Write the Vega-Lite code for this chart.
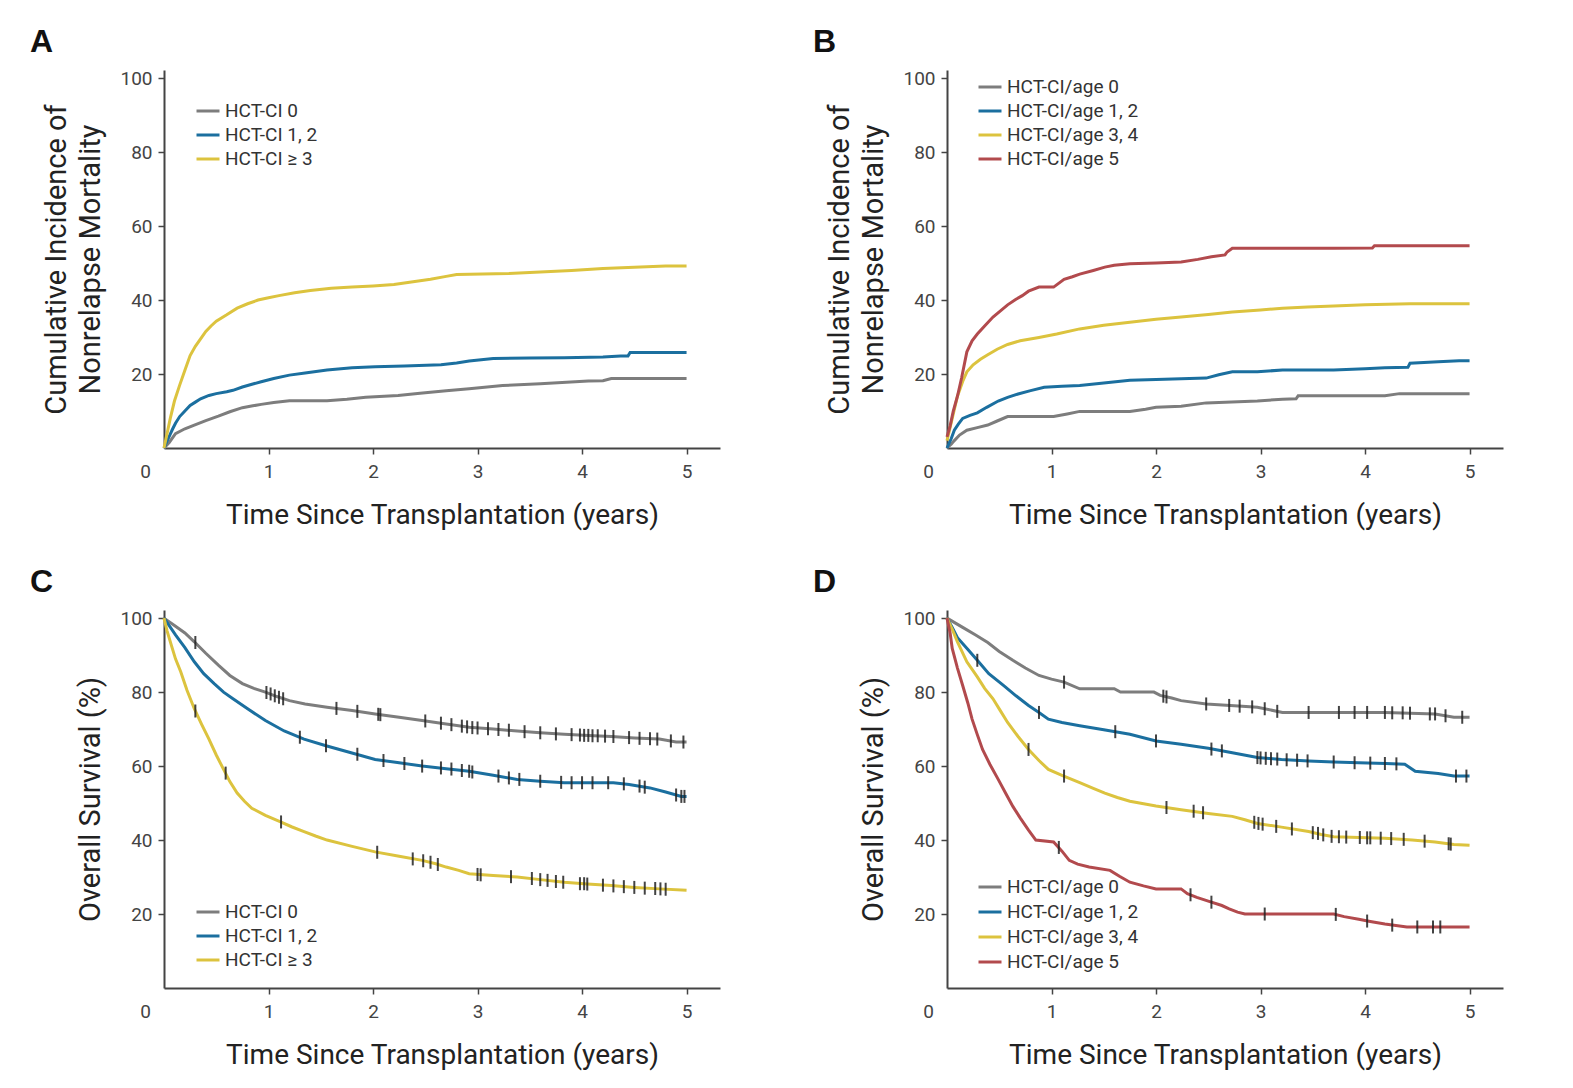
{
  "$schema": "https://vega.github.io/schema/vega-lite/v6.json",
  "background": "white",
  "padding": {"left": 30, "top": 26, "right": 5, "bottom": 5},
  "config": {
    "view": {"stroke": null},
    "font": "Roboto",
    "axis": {
      "grid": false,
      "domainColor": "#444",
      "domainWidth": 2,
      "tickColor": "#444",
      "tickWidth": 1.5,
      "tickSize": 6,
      "labelColor": "#444",
      "labelFont": "Roboto",
      "labelFontSize": 19,
      "titleFont": "Roboto",
      "titleFontSize": 28,
      "titleFontWeight": "normal",
      "titleColor": "#222"
    },
    "legend": {
      "title": null,
      "orient": "none",
      "symbolType": "stroke",
      "symbolSize": 529,
      "symbolStrokeWidth": 3,
      "labelFont": "Roboto",
      "labelFontSize": 19,
      "labelColor": "#333",
      "rowPadding": 2,
      "labelOffset": 4
    },
    "title": {"font": "Liberation Sans", "fontSize": 32, "fontWeight": "bold", "color": "#111", "anchor": "start", "frame": "group", "dx": -134, "offset": 10, "baseline": "alphabetic"}
  },
  "datasets": {
    "A": [
      {"g": "HCT-CI 0", "t": 0, "v": 0}, {"g": "HCT-CI 0", "t": 0.05, "v": 1.5}, {"g": "HCT-CI 0", "t": 0.11, "v": 3.9}, {"g": "HCT-CI 0", "t": 0.2, "v": 5.2}, {"g": "HCT-CI 0", "t": 0.29, "v": 6.2}, {"g": "HCT-CI 0", "t": 0.4, "v": 7.4}, {"g": "HCT-CI 0", "t": 0.52, "v": 8.6}, {"g": "HCT-CI 0", "t": 0.63, "v": 9.8}, {"g": "HCT-CI 0", "t": 0.75, "v": 10.9}, {"g": "HCT-CI 0", "t": 0.85, "v": 11.4}, {"g": "HCT-CI 0", "t": 0.93, "v": 11.8}, {"g": "HCT-CI 0", "t": 1.05, "v": 12.3}, {"g": "HCT-CI 0", "t": 1.2, "v": 12.8}, {"g": "HCT-CI 0", "t": 1.56, "v": 12.8}, {"g": "HCT-CI 0", "t": 1.75, "v": 13.2}, {"g": "HCT-CI 0", "t": 1.93, "v": 13.7}, {"g": "HCT-CI 0", "t": 2.24, "v": 14.2}, {"g": "HCT-CI 0", "t": 2.45, "v": 14.8}, {"g": "HCT-CI 0", "t": 2.7, "v": 15.5}, {"g": "HCT-CI 0", "t": 2.92, "v": 16}, {"g": "HCT-CI 0", "t": 3.24, "v": 16.9}, {"g": "HCT-CI 0", "t": 3.6, "v": 17.4}, {"g": "HCT-CI 0", "t": 4.06, "v": 18.1}, {"g": "HCT-CI 0", "t": 4.2, "v": 18.2}, {"g": "HCT-CI 0", "t": 4.28, "v": 18.8}, {"g": "HCT-CI 0", "t": 5.0, "v": 18.8},
      {"g": "HCT-CI 1, 2", "t": 0, "v": 0}, {"g": "HCT-CI 1, 2", "t": 0.04, "v": 2.5}, {"g": "HCT-CI 1, 2", "t": 0.08, "v": 5}, {"g": "HCT-CI 1, 2", "t": 0.11, "v": 6.7}, {"g": "HCT-CI 1, 2", "t": 0.15, "v": 8.5}, {"g": "HCT-CI 1, 2", "t": 0.2, "v": 10}, {"g": "HCT-CI 1, 2", "t": 0.25, "v": 11.5}, {"g": "HCT-CI 1, 2", "t": 0.3, "v": 12.4}, {"g": "HCT-CI 1, 2", "t": 0.35, "v": 13.3}, {"g": "HCT-CI 1, 2", "t": 0.43, "v": 14.2}, {"g": "HCT-CI 1, 2", "t": 0.5, "v": 14.7}, {"g": "HCT-CI 1, 2", "t": 0.6, "v": 15.2}, {"g": "HCT-CI 1, 2", "t": 0.66, "v": 15.6}, {"g": "HCT-CI 1, 2", "t": 0.75, "v": 16.5}, {"g": "HCT-CI 1, 2", "t": 0.85, "v": 17.3}, {"g": "HCT-CI 1, 2", "t": 0.93, "v": 17.9}, {"g": "HCT-CI 1, 2", "t": 1.05, "v": 18.8}, {"g": "HCT-CI 1, 2", "t": 1.2, "v": 19.7}, {"g": "HCT-CI 1, 2", "t": 1.35, "v": 20.3}, {"g": "HCT-CI 1, 2", "t": 1.56, "v": 21.1}, {"g": "HCT-CI 1, 2", "t": 1.8, "v": 21.7}, {"g": "HCT-CI 1, 2", "t": 2.02, "v": 22}, {"g": "HCT-CI 1, 2", "t": 2.3, "v": 22.2}, {"g": "HCT-CI 1, 2", "t": 2.65, "v": 22.5}, {"g": "HCT-CI 1, 2", "t": 2.8, "v": 23}, {"g": "HCT-CI 1, 2", "t": 2.92, "v": 23.5}, {"g": "HCT-CI 1, 2", "t": 3.15, "v": 24.2}, {"g": "HCT-CI 1, 2", "t": 3.5, "v": 24.3}, {"g": "HCT-CI 1, 2", "t": 3.83, "v": 24.4}, {"g": "HCT-CI 1, 2", "t": 4.2, "v": 24.6}, {"g": "HCT-CI 1, 2", "t": 4.37, "v": 24.9}, {"g": "HCT-CI 1, 2", "t": 4.44, "v": 24.9}, {"g": "HCT-CI 1, 2", "t": 4.46, "v": 25.8}, {"g": "HCT-CI 1, 2", "t": 5.0, "v": 25.8},
      {"g": "HCT-CI ≥ 3", "t": 0, "v": 0}, {"g": "HCT-CI ≥ 3", "t": 0.03, "v": 4}, {"g": "HCT-CI ≥ 3", "t": 0.06, "v": 8}, {"g": "HCT-CI ≥ 3", "t": 0.1, "v": 12.7}, {"g": "HCT-CI ≥ 3", "t": 0.15, "v": 17}, {"g": "HCT-CI ≥ 3", "t": 0.2, "v": 21}, {"g": "HCT-CI ≥ 3", "t": 0.25, "v": 25}, {"g": "HCT-CI ≥ 3", "t": 0.3, "v": 27.5}, {"g": "HCT-CI ≥ 3", "t": 0.35, "v": 29.5}, {"g": "HCT-CI ≥ 3", "t": 0.4, "v": 31.5}, {"g": "HCT-CI ≥ 3", "t": 0.45, "v": 33}, {"g": "HCT-CI ≥ 3", "t": 0.5, "v": 34.3}, {"g": "HCT-CI ≥ 3", "t": 0.6, "v": 36}, {"g": "HCT-CI ≥ 3", "t": 0.7, "v": 37.8}, {"g": "HCT-CI ≥ 3", "t": 0.8, "v": 39}, {"g": "HCT-CI ≥ 3", "t": 0.9, "v": 40}, {"g": "HCT-CI ≥ 3", "t": 1.0, "v": 40.6}, {"g": "HCT-CI ≥ 3", "t": 1.1, "v": 41.2}, {"g": "HCT-CI ≥ 3", "t": 1.25, "v": 42}, {"g": "HCT-CI ≥ 3", "t": 1.4, "v": 42.6}, {"g": "HCT-CI ≥ 3", "t": 1.6, "v": 43.2}, {"g": "HCT-CI ≥ 3", "t": 1.8, "v": 43.5}, {"g": "HCT-CI ≥ 3", "t": 2.0, "v": 43.8}, {"g": "HCT-CI ≥ 3", "t": 2.2, "v": 44.2}, {"g": "HCT-CI ≥ 3", "t": 2.4, "v": 45}, {"g": "HCT-CI ≥ 3", "t": 2.55, "v": 45.6}, {"g": "HCT-CI ≥ 3", "t": 2.7, "v": 46.4}, {"g": "HCT-CI ≥ 3", "t": 2.8, "v": 46.9}, {"g": "HCT-CI ≥ 3", "t": 3.3, "v": 47.2}, {"g": "HCT-CI ≥ 3", "t": 3.6, "v": 47.6}, {"g": "HCT-CI ≥ 3", "t": 3.9, "v": 48}, {"g": "HCT-CI ≥ 3", "t": 4.2, "v": 48.5}, {"g": "HCT-CI ≥ 3", "t": 4.5, "v": 48.9}, {"g": "HCT-CI ≥ 3", "t": 4.8, "v": 49.2}, {"g": "HCT-CI ≥ 3", "t": 5.0, "v": 49.2}
    ],
    "B": [
      {"g": "HCT-CI/age 0", "t": 0, "v": 0}, {"g": "HCT-CI/age 0", "t": 0.04, "v": 1}, {"g": "HCT-CI/age 0", "t": 0.07, "v": 2}, {"g": "HCT-CI/age 0", "t": 0.12, "v": 3.5}, {"g": "HCT-CI/age 0", "t": 0.19, "v": 4.8}, {"g": "HCT-CI/age 0", "t": 0.29, "v": 5.5}, {"g": "HCT-CI/age 0", "t": 0.39, "v": 6.2}, {"g": "HCT-CI/age 0", "t": 0.48, "v": 7.3}, {"g": "HCT-CI/age 0", "t": 0.58, "v": 8.5}, {"g": "HCT-CI/age 0", "t": 1.02, "v": 8.5}, {"g": "HCT-CI/age 0", "t": 1.15, "v": 9.2}, {"g": "HCT-CI/age 0", "t": 1.27, "v": 9.9}, {"g": "HCT-CI/age 0", "t": 1.75, "v": 9.9}, {"g": "HCT-CI/age 0", "t": 1.9, "v": 10.5}, {"g": "HCT-CI/age 0", "t": 2.0, "v": 11}, {"g": "HCT-CI/age 0", "t": 2.24, "v": 11.3}, {"g": "HCT-CI/age 0", "t": 2.48, "v": 12.2}, {"g": "HCT-CI/age 0", "t": 2.97, "v": 12.7}, {"g": "HCT-CI/age 0", "t": 3.21, "v": 13.2}, {"g": "HCT-CI/age 0", "t": 3.34, "v": 13.3}, {"g": "HCT-CI/age 0", "t": 3.36, "v": 14.1}, {"g": "HCT-CI/age 0", "t": 4.19, "v": 14.1}, {"g": "HCT-CI/age 0", "t": 4.33, "v": 14.7}, {"g": "HCT-CI/age 0", "t": 5.0, "v": 14.7},
      {"g": "HCT-CI/age 1, 2", "t": 0, "v": 0}, {"g": "HCT-CI/age 1, 2", "t": 0.04, "v": 2.5}, {"g": "HCT-CI/age 1, 2", "t": 0.07, "v": 4.8}, {"g": "HCT-CI/age 1, 2", "t": 0.11, "v": 6.5}, {"g": "HCT-CI/age 1, 2", "t": 0.15, "v": 8}, {"g": "HCT-CI/age 1, 2", "t": 0.22, "v": 8.8}, {"g": "HCT-CI/age 1, 2", "t": 0.29, "v": 9.5}, {"g": "HCT-CI/age 1, 2", "t": 0.38, "v": 11}, {"g": "HCT-CI/age 1, 2", "t": 0.49, "v": 12.7}, {"g": "HCT-CI/age 1, 2", "t": 0.58, "v": 13.7}, {"g": "HCT-CI/age 1, 2", "t": 0.68, "v": 14.6}, {"g": "HCT-CI/age 1, 2", "t": 0.8, "v": 15.5}, {"g": "HCT-CI/age 1, 2", "t": 0.93, "v": 16.4}, {"g": "HCT-CI/age 1, 2", "t": 1.1, "v": 16.7}, {"g": "HCT-CI/age 1, 2", "t": 1.27, "v": 16.9}, {"g": "HCT-CI/age 1, 2", "t": 1.5, "v": 17.6}, {"g": "HCT-CI/age 1, 2", "t": 1.75, "v": 18.3}, {"g": "HCT-CI/age 1, 2", "t": 2.0, "v": 18.5}, {"g": "HCT-CI/age 1, 2", "t": 2.24, "v": 18.7}, {"g": "HCT-CI/age 1, 2", "t": 2.48, "v": 18.9}, {"g": "HCT-CI/age 1, 2", "t": 2.6, "v": 19.8}, {"g": "HCT-CI/age 1, 2", "t": 2.73, "v": 20.6}, {"g": "HCT-CI/age 1, 2", "t": 2.97, "v": 20.6}, {"g": "HCT-CI/age 1, 2", "t": 3.21, "v": 21.1}, {"g": "HCT-CI/age 1, 2", "t": 3.7, "v": 21.1}, {"g": "HCT-CI/age 1, 2", "t": 4.0, "v": 21.4}, {"g": "HCT-CI/age 1, 2", "t": 4.19, "v": 21.7}, {"g": "HCT-CI/age 1, 2", "t": 4.41, "v": 21.8}, {"g": "HCT-CI/age 1, 2", "t": 4.43, "v": 22.9}, {"g": "HCT-CI/age 1, 2", "t": 4.7, "v": 23.3}, {"g": "HCT-CI/age 1, 2", "t": 4.9, "v": 23.6}, {"g": "HCT-CI/age 1, 2", "t": 5.0, "v": 23.6},
      {"g": "HCT-CI/age 3, 4", "t": 0, "v": 2}, {"g": "HCT-CI/age 3, 4", "t": 0.05, "v": 8}, {"g": "HCT-CI/age 3, 4", "t": 0.1, "v": 14}, {"g": "HCT-CI/age 3, 4", "t": 0.15, "v": 18}, {"g": "HCT-CI/age 3, 4", "t": 0.19, "v": 20.6}, {"g": "HCT-CI/age 3, 4", "t": 0.25, "v": 22.5}, {"g": "HCT-CI/age 3, 4", "t": 0.32, "v": 24}, {"g": "HCT-CI/age 3, 4", "t": 0.39, "v": 25.2}, {"g": "HCT-CI/age 3, 4", "t": 0.48, "v": 26.7}, {"g": "HCT-CI/age 3, 4", "t": 0.58, "v": 28}, {"g": "HCT-CI/age 3, 4", "t": 0.7, "v": 29}, {"g": "HCT-CI/age 3, 4", "t": 0.88, "v": 29.9}, {"g": "HCT-CI/age 3, 4", "t": 1.05, "v": 30.8}, {"g": "HCT-CI/age 3, 4", "t": 1.27, "v": 32.2}, {"g": "HCT-CI/age 3, 4", "t": 1.5, "v": 33.2}, {"g": "HCT-CI/age 3, 4", "t": 1.75, "v": 34}, {"g": "HCT-CI/age 3, 4", "t": 2.0, "v": 34.8}, {"g": "HCT-CI/age 3, 4", "t": 2.24, "v": 35.4}, {"g": "HCT-CI/age 3, 4", "t": 2.5, "v": 36.1}, {"g": "HCT-CI/age 3, 4", "t": 2.73, "v": 36.8}, {"g": "HCT-CI/age 3, 4", "t": 3.0, "v": 37.3}, {"g": "HCT-CI/age 3, 4", "t": 3.21, "v": 37.8}, {"g": "HCT-CI/age 3, 4", "t": 3.45, "v": 38.1}, {"g": "HCT-CI/age 3, 4", "t": 3.7, "v": 38.4}, {"g": "HCT-CI/age 3, 4", "t": 4.0, "v": 38.7}, {"g": "HCT-CI/age 3, 4", "t": 4.43, "v": 39}, {"g": "HCT-CI/age 3, 4", "t": 5.0, "v": 39},
      {"g": "HCT-CI/age 5", "t": 0, "v": 3}, {"g": "HCT-CI/age 5", "t": 0.03, "v": 6}, {"g": "HCT-CI/age 5", "t": 0.06, "v": 10}, {"g": "HCT-CI/age 5", "t": 0.1, "v": 14}, {"g": "HCT-CI/age 5", "t": 0.14, "v": 19}, {"g": "HCT-CI/age 5", "t": 0.19, "v": 26}, {"g": "HCT-CI/age 5", "t": 0.24, "v": 29}, {"g": "HCT-CI/age 5", "t": 0.29, "v": 30.8}, {"g": "HCT-CI/age 5", "t": 0.36, "v": 33}, {"g": "HCT-CI/age 5", "t": 0.44, "v": 35.4}, {"g": "HCT-CI/age 5", "t": 0.5, "v": 36.8}, {"g": "HCT-CI/age 5", "t": 0.58, "v": 38.7}, {"g": "HCT-CI/age 5", "t": 0.66, "v": 40.2}, {"g": "HCT-CI/age 5", "t": 0.72, "v": 41.2}, {"g": "HCT-CI/age 5", "t": 0.78, "v": 42.4}, {"g": "HCT-CI/age 5", "t": 0.88, "v": 43.5}, {"g": "HCT-CI/age 5", "t": 1.02, "v": 43.5}, {"g": "HCT-CI/age 5", "t": 1.12, "v": 45.6}, {"g": "HCT-CI/age 5", "t": 1.2, "v": 46.3}, {"g": "HCT-CI/age 5", "t": 1.27, "v": 47}, {"g": "HCT-CI/age 5", "t": 1.4, "v": 48}, {"g": "HCT-CI/age 5", "t": 1.51, "v": 48.9}, {"g": "HCT-CI/age 5", "t": 1.6, "v": 49.4}, {"g": "HCT-CI/age 5", "t": 1.75, "v": 49.8}, {"g": "HCT-CI/age 5", "t": 2.0, "v": 50}, {"g": "HCT-CI/age 5", "t": 2.24, "v": 50.3}, {"g": "HCT-CI/age 5", "t": 2.4, "v": 51}, {"g": "HCT-CI/age 5", "t": 2.53, "v": 51.7}, {"g": "HCT-CI/age 5", "t": 2.66, "v": 52.2}, {"g": "HCT-CI/age 5", "t": 2.68, "v": 53}, {"g": "HCT-CI/age 5", "t": 2.73, "v": 54}, {"g": "HCT-CI/age 5", "t": 3.7, "v": 54}, {"g": "HCT-CI/age 5", "t": 4.07, "v": 54.1}, {"g": "HCT-CI/age 5", "t": 4.09, "v": 54.7}, {"g": "HCT-CI/age 5", "t": 5.0, "v": 54.7}
    ],
    "C": [
      {"g": "HCT-CI 0", "t": 0, "v": 100}, {"g": "HCT-CI 0", "t": 0.1, "v": 98}, {"g": "HCT-CI 0", "t": 0.2, "v": 96}, {"g": "HCT-CI 0", "t": 0.29, "v": 93.6}, {"g": "HCT-CI 0", "t": 0.4, "v": 90.5}, {"g": "HCT-CI 0", "t": 0.52, "v": 87.3}, {"g": "HCT-CI 0", "t": 0.63, "v": 84.5}, {"g": "HCT-CI 0", "t": 0.75, "v": 82.3}, {"g": "HCT-CI 0", "t": 0.86, "v": 81}, {"g": "HCT-CI 0", "t": 0.97, "v": 80}, {"g": "HCT-CI 0", "t": 1.08, "v": 78.8}, {"g": "HCT-CI 0", "t": 1.2, "v": 77.7}, {"g": "HCT-CI 0", "t": 1.35, "v": 76.8}, {"g": "HCT-CI 0", "t": 1.56, "v": 75.9}, {"g": "HCT-CI 0", "t": 1.8, "v": 75}, {"g": "HCT-CI 0", "t": 2.02, "v": 74.1}, {"g": "HCT-CI 0", "t": 2.25, "v": 73.2}, {"g": "HCT-CI 0", "t": 2.47, "v": 72.3}, {"g": "HCT-CI 0", "t": 2.7, "v": 71.4}, {"g": "HCT-CI 0", "t": 2.92, "v": 70.5}, {"g": "HCT-CI 0", "t": 3.15, "v": 70}, {"g": "HCT-CI 0", "t": 3.38, "v": 69.5}, {"g": "HCT-CI 0", "t": 3.6, "v": 69}, {"g": "HCT-CI 0", "t": 3.83, "v": 68.6}, {"g": "HCT-CI 0", "t": 4.06, "v": 68.3}, {"g": "HCT-CI 0", "t": 4.28, "v": 68}, {"g": "HCT-CI 0", "t": 4.5, "v": 67.6}, {"g": "HCT-CI 0", "t": 4.74, "v": 67.3}, {"g": "HCT-CI 0", "t": 4.9, "v": 66.5}, {"g": "HCT-CI 0", "t": 5.0, "v": 66.5},
      {"g": "HCT-CI 1, 2", "t": 0, "v": 100}, {"g": "HCT-CI 1, 2", "t": 0.05, "v": 98}, {"g": "HCT-CI 1, 2", "t": 0.11, "v": 95.5}, {"g": "HCT-CI 1, 2", "t": 0.2, "v": 92}, {"g": "HCT-CI 1, 2", "t": 0.29, "v": 88.2}, {"g": "HCT-CI 1, 2", "t": 0.38, "v": 85}, {"g": "HCT-CI 1, 2", "t": 0.48, "v": 82.3}, {"g": "HCT-CI 1, 2", "t": 0.57, "v": 80}, {"g": "HCT-CI 1, 2", "t": 0.66, "v": 78.2}, {"g": "HCT-CI 1, 2", "t": 0.8, "v": 75.5}, {"g": "HCT-CI 1, 2", "t": 0.97, "v": 72.3}, {"g": "HCT-CI 1, 2", "t": 1.15, "v": 69.5}, {"g": "HCT-CI 1, 2", "t": 1.34, "v": 67.3}, {"g": "HCT-CI 1, 2", "t": 1.55, "v": 65.5}, {"g": "HCT-CI 1, 2", "t": 1.79, "v": 63.6}, {"g": "HCT-CI 1, 2", "t": 2.02, "v": 61.8}, {"g": "HCT-CI 1, 2", "t": 2.25, "v": 60.9}, {"g": "HCT-CI 1, 2", "t": 2.47, "v": 60}, {"g": "HCT-CI 1, 2", "t": 2.7, "v": 59.3}, {"g": "HCT-CI 1, 2", "t": 2.92, "v": 58.6}, {"g": "HCT-CI 1, 2", "t": 3.15, "v": 57.5}, {"g": "HCT-CI 1, 2", "t": 3.38, "v": 56.4}, {"g": "HCT-CI 1, 2", "t": 3.6, "v": 55.9}, {"g": "HCT-CI 1, 2", "t": 3.83, "v": 55.5}, {"g": "HCT-CI 1, 2", "t": 4.3, "v": 55.5}, {"g": "HCT-CI 1, 2", "t": 4.45, "v": 55}, {"g": "HCT-CI 1, 2", "t": 4.65, "v": 54.1}, {"g": "HCT-CI 1, 2", "t": 4.8, "v": 53}, {"g": "HCT-CI 1, 2", "t": 4.95, "v": 51.8}, {"g": "HCT-CI 1, 2", "t": 5.0, "v": 51.8},
      {"g": "HCT-CI ≥ 3", "t": 0, "v": 100}, {"g": "HCT-CI ≥ 3", "t": 0.03, "v": 96.5}, {"g": "HCT-CI ≥ 3", "t": 0.07, "v": 92.7}, {"g": "HCT-CI ≥ 3", "t": 0.11, "v": 89}, {"g": "HCT-CI ≥ 3", "t": 0.16, "v": 85.5}, {"g": "HCT-CI ≥ 3", "t": 0.22, "v": 80.5}, {"g": "HCT-CI ≥ 3", "t": 0.29, "v": 75.5}, {"g": "HCT-CI ≥ 3", "t": 0.36, "v": 71.3}, {"g": "HCT-CI ≥ 3", "t": 0.43, "v": 67.3}, {"g": "HCT-CI ≥ 3", "t": 0.5, "v": 63}, {"g": "HCT-CI ≥ 3", "t": 0.57, "v": 59.1}, {"g": "HCT-CI ≥ 3", "t": 0.63, "v": 55.8}, {"g": "HCT-CI ≥ 3", "t": 0.7, "v": 52.7}, {"g": "HCT-CI ≥ 3", "t": 0.77, "v": 50.5}, {"g": "HCT-CI ≥ 3", "t": 0.84, "v": 48.6}, {"g": "HCT-CI ≥ 3", "t": 0.97, "v": 46.7}, {"g": "HCT-CI ≥ 3", "t": 1.11, "v": 45}, {"g": "HCT-CI ≥ 3", "t": 1.22, "v": 43.6}, {"g": "HCT-CI ≥ 3", "t": 1.34, "v": 42.3}, {"g": "HCT-CI ≥ 3", "t": 1.45, "v": 41.1}, {"g": "HCT-CI ≥ 3", "t": 1.56, "v": 40}, {"g": "HCT-CI ≥ 3", "t": 1.8, "v": 38.3}, {"g": "HCT-CI ≥ 3", "t": 2.02, "v": 36.8}, {"g": "HCT-CI ≥ 3", "t": 2.25, "v": 35.6}, {"g": "HCT-CI ≥ 3", "t": 2.47, "v": 34.5}, {"g": "HCT-CI ≥ 3", "t": 2.6, "v": 33.6}, {"g": "HCT-CI ≥ 3", "t": 2.7, "v": 32.7}, {"g": "HCT-CI ≥ 3", "t": 2.82, "v": 31.8}, {"g": "HCT-CI ≥ 3", "t": 2.92, "v": 30.9}, {"g": "HCT-CI ≥ 3", "t": 3.15, "v": 30.4}, {"g": "HCT-CI ≥ 3", "t": 3.38, "v": 30}, {"g": "HCT-CI ≥ 3", "t": 3.6, "v": 29.3}, {"g": "HCT-CI ≥ 3", "t": 3.83, "v": 28.6}, {"g": "HCT-CI ≥ 3", "t": 4.05, "v": 28.1}, {"g": "HCT-CI ≥ 3", "t": 4.28, "v": 27.7}, {"g": "HCT-CI ≥ 3", "t": 4.5, "v": 27.2}, {"g": "HCT-CI ≥ 3", "t": 4.74, "v": 26.8}, {"g": "HCT-CI ≥ 3", "t": 5.0, "v": 26.4}
    ],
    "Ct": [
      {"t": 0.3, "v": 93.4}, {"t": 0.98, "v": 79.9}, {"t": 1.02, "v": 79.5}, {"t": 1.06, "v": 79}, {"t": 1.1, "v": 78.6}, {"t": 1.14, "v": 78.2}, {"t": 1.65, "v": 75.6}, {"t": 1.85, "v": 74.8}, {"t": 2.05, "v": 74}, {"t": 2.07, "v": 73.9}, {"t": 2.5, "v": 72.2}, {"t": 2.65, "v": 71.6}, {"t": 2.75, "v": 71.2}, {"t": 2.85, "v": 70.8}, {"t": 2.9, "v": 70.6}, {"t": 2.95, "v": 70.4}, {"t": 3.0, "v": 70.3}, {"t": 3.1, "v": 70.1}, {"t": 3.2, "v": 69.9}, {"t": 3.3, "v": 69.7}, {"t": 3.45, "v": 69.3}, {"t": 3.6, "v": 69}, {"t": 3.75, "v": 68.7}, {"t": 3.9, "v": 68.5}, {"t": 3.98, "v": 68.4}, {"t": 4.02, "v": 68.3}, {"t": 4.06, "v": 68.3}, {"t": 4.1, "v": 68.2}, {"t": 4.15, "v": 68.2}, {"t": 4.22, "v": 68.1}, {"t": 4.3, "v": 68}, {"t": 4.45, "v": 67.7}, {"t": 4.55, "v": 67.5}, {"t": 4.65, "v": 67.4}, {"t": 4.72, "v": 67.3}, {"t": 4.85, "v": 66.8}, {"t": 4.97, "v": 66.5},
      {"t": 1.3, "v": 67.8}, {"t": 1.55, "v": 65.5}, {"t": 1.85, "v": 63.2}, {"t": 2.1, "v": 61.5}, {"t": 2.3, "v": 60.7}, {"t": 2.47, "v": 60}, {"t": 2.65, "v": 59.5}, {"t": 2.75, "v": 59.2}, {"t": 2.85, "v": 58.8}, {"t": 2.92, "v": 58.6}, {"t": 2.95, "v": 58.4}, {"t": 3.2, "v": 57.3}, {"t": 3.3, "v": 56.8}, {"t": 3.4, "v": 56.4}, {"t": 3.6, "v": 55.9}, {"t": 3.8, "v": 55.6}, {"t": 3.9, "v": 55.5}, {"t": 4.0, "v": 55.5}, {"t": 4.1, "v": 55.5}, {"t": 4.25, "v": 55.5}, {"t": 4.4, "v": 55.2}, {"t": 4.55, "v": 54.6}, {"t": 4.6, "v": 54.3}, {"t": 4.9, "v": 52.2}, {"t": 4.95, "v": 51.8}, {"t": 4.98, "v": 51.8},
      {"t": 0.3, "v": 74.9}, {"t": 0.59, "v": 58.1}, {"t": 1.12, "v": 44.9}, {"t": 2.04, "v": 36.7}, {"t": 2.38, "v": 34.9}, {"t": 2.48, "v": 34.4}, {"t": 2.55, "v": 34}, {"t": 2.62, "v": 33.4}, {"t": 3.0, "v": 30.7}, {"t": 3.03, "v": 30.6}, {"t": 3.32, "v": 30.1}, {"t": 3.52, "v": 29.6}, {"t": 3.6, "v": 29.3}, {"t": 3.67, "v": 29.1}, {"t": 3.75, "v": 28.8}, {"t": 3.82, "v": 28.6}, {"t": 3.98, "v": 28.2}, {"t": 4.02, "v": 28.2}, {"t": 4.05, "v": 28.1}, {"t": 4.2, "v": 27.8}, {"t": 4.3, "v": 27.6}, {"t": 4.4, "v": 27.4}, {"t": 4.5, "v": 27.2}, {"t": 4.6, "v": 27}, {"t": 4.7, "v": 26.9}, {"t": 4.75, "v": 26.8}, {"t": 4.8, "v": 26.7}
    ],
    "D": [
      {"g": "HCT-CI/age 0", "t": 0, "v": 100}, {"g": "HCT-CI/age 0", "t": 0.15, "v": 97.5}, {"g": "HCT-CI/age 0", "t": 0.27, "v": 95.5}, {"g": "HCT-CI/age 0", "t": 0.39, "v": 93.4}, {"g": "HCT-CI/age 0", "t": 0.5, "v": 91}, {"g": "HCT-CI/age 0", "t": 0.63, "v": 88.6}, {"g": "HCT-CI/age 0", "t": 0.75, "v": 86.5}, {"g": "HCT-CI/age 0", "t": 0.88, "v": 84.5}, {"g": "HCT-CI/age 0", "t": 1.0, "v": 83.5}, {"g": "HCT-CI/age 0", "t": 1.12, "v": 82.7}, {"g": "HCT-CI/age 0", "t": 1.27, "v": 80.9}, {"g": "HCT-CI/age 0", "t": 1.6, "v": 80.9}, {"g": "HCT-CI/age 0", "t": 1.66, "v": 80}, {"g": "HCT-CI/age 0", "t": 1.98, "v": 80}, {"g": "HCT-CI/age 0", "t": 2.04, "v": 79.1}, {"g": "HCT-CI/age 0", "t": 2.15, "v": 78.4}, {"g": "HCT-CI/age 0", "t": 2.24, "v": 77.7}, {"g": "HCT-CI/age 0", "t": 2.48, "v": 76.8}, {"g": "HCT-CI/age 0", "t": 2.75, "v": 76.3}, {"g": "HCT-CI/age 0", "t": 2.97, "v": 75.9}, {"g": "HCT-CI/age 0", "t": 3.21, "v": 74.5}, {"g": "HCT-CI/age 0", "t": 4.19, "v": 74.5}, {"g": "HCT-CI/age 0", "t": 4.67, "v": 74.1}, {"g": "HCT-CI/age 0", "t": 4.85, "v": 73.2}, {"g": "HCT-CI/age 0", "t": 5.0, "v": 73.2},
      {"g": "HCT-CI/age 1, 2", "t": 0, "v": 100}, {"g": "HCT-CI/age 1, 2", "t": 0.05, "v": 97.5}, {"g": "HCT-CI/age 1, 2", "t": 0.1, "v": 94.7}, {"g": "HCT-CI/age 1, 2", "t": 0.2, "v": 91.5}, {"g": "HCT-CI/age 1, 2", "t": 0.29, "v": 88.6}, {"g": "HCT-CI/age 1, 2", "t": 0.4, "v": 85}, {"g": "HCT-CI/age 1, 2", "t": 0.54, "v": 81.8}, {"g": "HCT-CI/age 1, 2", "t": 0.66, "v": 79}, {"g": "HCT-CI/age 1, 2", "t": 0.78, "v": 76.4}, {"g": "HCT-CI/age 1, 2", "t": 0.88, "v": 74.5}, {"g": "HCT-CI/age 1, 2", "t": 0.97, "v": 72.7}, {"g": "HCT-CI/age 1, 2", "t": 1.1, "v": 71.8}, {"g": "HCT-CI/age 1, 2", "t": 1.27, "v": 70.9}, {"g": "HCT-CI/age 1, 2", "t": 1.5, "v": 69.8}, {"g": "HCT-CI/age 1, 2", "t": 1.75, "v": 68.6}, {"g": "HCT-CI/age 1, 2", "t": 2.0, "v": 66.8}, {"g": "HCT-CI/age 1, 2", "t": 2.24, "v": 65.9}, {"g": "HCT-CI/age 1, 2", "t": 2.5, "v": 64.8}, {"g": "HCT-CI/age 1, 2", "t": 2.73, "v": 63.6}, {"g": "HCT-CI/age 1, 2", "t": 2.97, "v": 62.3}, {"g": "HCT-CI/age 1, 2", "t": 3.2, "v": 61.8}, {"g": "HCT-CI/age 1, 2", "t": 3.46, "v": 61.4}, {"g": "HCT-CI/age 1, 2", "t": 3.7, "v": 61.1}, {"g": "HCT-CI/age 1, 2", "t": 3.94, "v": 60.9}, {"g": "HCT-CI/age 1, 2", "t": 4.2, "v": 60.7}, {"g": "HCT-CI/age 1, 2", "t": 4.38, "v": 60.5}, {"g": "HCT-CI/age 1, 2", "t": 4.48, "v": 58.6}, {"g": "HCT-CI/age 1, 2", "t": 4.7, "v": 58}, {"g": "HCT-CI/age 1, 2", "t": 4.85, "v": 57.3}, {"g": "HCT-CI/age 1, 2", "t": 5.0, "v": 57.3},
      {"g": "HCT-CI/age 3, 4", "t": 0, "v": 100}, {"g": "HCT-CI/age 3, 4", "t": 0.05, "v": 97}, {"g": "HCT-CI/age 3, 4", "t": 0.1, "v": 93.6}, {"g": "HCT-CI/age 3, 4", "t": 0.19, "v": 88.2}, {"g": "HCT-CI/age 3, 4", "t": 0.29, "v": 84.1}, {"g": "HCT-CI/age 3, 4", "t": 0.36, "v": 81}, {"g": "HCT-CI/age 3, 4", "t": 0.44, "v": 78.2}, {"g": "HCT-CI/age 3, 4", "t": 0.51, "v": 75}, {"g": "HCT-CI/age 3, 4", "t": 0.58, "v": 71.8}, {"g": "HCT-CI/age 3, 4", "t": 0.68, "v": 68}, {"g": "HCT-CI/age 3, 4", "t": 0.78, "v": 64.5}, {"g": "HCT-CI/age 3, 4", "t": 0.88, "v": 61.5}, {"g": "HCT-CI/age 3, 4", "t": 0.97, "v": 59.1}, {"g": "HCT-CI/age 3, 4", "t": 1.1, "v": 57.5}, {"g": "HCT-CI/age 3, 4", "t": 1.27, "v": 55.5}, {"g": "HCT-CI/age 3, 4", "t": 1.4, "v": 54}, {"g": "HCT-CI/age 3, 4", "t": 1.51, "v": 52.7}, {"g": "HCT-CI/age 3, 4", "t": 1.63, "v": 51.5}, {"g": "HCT-CI/age 3, 4", "t": 1.75, "v": 50.5}, {"g": "HCT-CI/age 3, 4", "t": 2.0, "v": 49.2}, {"g": "HCT-CI/age 3, 4", "t": 2.24, "v": 48.2}, {"g": "HCT-CI/age 3, 4", "t": 2.5, "v": 47.2}, {"g": "HCT-CI/age 3, 4", "t": 2.73, "v": 46.4}, {"g": "HCT-CI/age 3, 4", "t": 2.85, "v": 45.5}, {"g": "HCT-CI/age 3, 4", "t": 2.97, "v": 44.5}, {"g": "HCT-CI/age 3, 4", "t": 3.2, "v": 43.5}, {"g": "HCT-CI/age 3, 4", "t": 3.46, "v": 42.3}, {"g": "HCT-CI/age 3, 4", "t": 3.58, "v": 41.5}, {"g": "HCT-CI/age 3, 4", "t": 3.7, "v": 40.9}, {"g": "HCT-CI/age 3, 4", "t": 4.19, "v": 40.5}, {"g": "HCT-CI/age 3, 4", "t": 4.45, "v": 40}, {"g": "HCT-CI/age 3, 4", "t": 4.67, "v": 39.5}, {"g": "HCT-CI/age 3, 4", "t": 4.85, "v": 38.8}, {"g": "HCT-CI/age 3, 4", "t": 5.0, "v": 38.6},
      {"g": "HCT-CI/age 5", "t": 0, "v": 100}, {"g": "HCT-CI/age 5", "t": 0.03, "v": 96}, {"g": "HCT-CI/age 5", "t": 0.05, "v": 91.8}, {"g": "HCT-CI/age 5", "t": 0.1, "v": 86.5}, {"g": "HCT-CI/age 5", "t": 0.15, "v": 81.8}, {"g": "HCT-CI/age 5", "t": 0.2, "v": 77}, {"g": "HCT-CI/age 5", "t": 0.24, "v": 72.7}, {"g": "HCT-CI/age 5", "t": 0.29, "v": 68.5}, {"g": "HCT-CI/age 5", "t": 0.34, "v": 64.5}, {"g": "HCT-CI/age 5", "t": 0.41, "v": 60.5}, {"g": "HCT-CI/age 5", "t": 0.49, "v": 56.4}, {"g": "HCT-CI/age 5", "t": 0.56, "v": 52.7}, {"g": "HCT-CI/age 5", "t": 0.63, "v": 49.1}, {"g": "HCT-CI/age 5", "t": 0.7, "v": 46}, {"g": "HCT-CI/age 5", "t": 0.78, "v": 42.7}, {"g": "HCT-CI/age 5", "t": 0.85, "v": 40}, {"g": "HCT-CI/age 5", "t": 1.02, "v": 39.5}, {"g": "HCT-CI/age 5", "t": 1.1, "v": 37}, {"g": "HCT-CI/age 5", "t": 1.17, "v": 34.5}, {"g": "HCT-CI/age 5", "t": 1.25, "v": 33.5}, {"g": "HCT-CI/age 5", "t": 1.36, "v": 32.7}, {"g": "HCT-CI/age 5", "t": 1.56, "v": 31.8}, {"g": "HCT-CI/age 5", "t": 1.65, "v": 30.2}, {"g": "HCT-CI/age 5", "t": 1.75, "v": 28.6}, {"g": "HCT-CI/age 5", "t": 1.88, "v": 27.6}, {"g": "HCT-CI/age 5", "t": 2.0, "v": 26.8}, {"g": "HCT-CI/age 5", "t": 2.24, "v": 26.8}, {"g": "HCT-CI/age 5", "t": 2.3, "v": 25.5}, {"g": "HCT-CI/age 5", "t": 2.39, "v": 24.5}, {"g": "HCT-CI/age 5", "t": 2.5, "v": 23.5}, {"g": "HCT-CI/age 5", "t": 2.63, "v": 22.3}, {"g": "HCT-CI/age 5", "t": 2.7, "v": 21.4}, {"g": "HCT-CI/age 5", "t": 2.78, "v": 20.5}, {"g": "HCT-CI/age 5", "t": 2.85, "v": 20}, {"g": "HCT-CI/age 5", "t": 3.7, "v": 20}, {"g": "HCT-CI/age 5", "t": 3.8, "v": 19.3}, {"g": "HCT-CI/age 5", "t": 3.94, "v": 18.6}, {"g": "HCT-CI/age 5", "t": 4.05, "v": 18}, {"g": "HCT-CI/age 5", "t": 4.19, "v": 17.3}, {"g": "HCT-CI/age 5", "t": 4.4, "v": 16.5}, {"g": "HCT-CI/age 5", "t": 5.0, "v": 16.5}
    ],
    "Dt": [
      {"t": 1.12, "v": 82.7}, {"t": 2.07, "v": 78.9}, {"t": 2.1, "v": 78.7}, {"t": 2.48, "v": 76.8}, {"t": 2.7, "v": 76.4}, {"t": 2.8, "v": 76.2}, {"t": 2.92, "v": 76}, {"t": 3.04, "v": 75.5}, {"t": 3.16, "v": 74.8}, {"t": 3.46, "v": 74.5}, {"t": 3.75, "v": 74.5}, {"t": 3.9, "v": 74.5}, {"t": 4.02, "v": 74.5}, {"t": 4.19, "v": 74.5}, {"t": 4.26, "v": 74.4}, {"t": 4.36, "v": 74.4}, {"t": 4.43, "v": 74.3}, {"t": 4.62, "v": 74.1}, {"t": 4.67, "v": 74.1}, {"t": 4.77, "v": 73.6}, {"t": 4.93, "v": 73.2},
      {"t": 0.29, "v": 88.6}, {"t": 0.88, "v": 74.5}, {"t": 1.61, "v": 69.3}, {"t": 2.0, "v": 66.8}, {"t": 2.53, "v": 64.6}, {"t": 2.63, "v": 64.1}, {"t": 2.97, "v": 62.3}, {"t": 3.0, "v": 62.2}, {"t": 3.05, "v": 62.1}, {"t": 3.1, "v": 62}, {"t": 3.16, "v": 61.9}, {"t": 3.25, "v": 61.7}, {"t": 3.35, "v": 61.6}, {"t": 3.45, "v": 61.4}, {"t": 3.7, "v": 61.1}, {"t": 3.9, "v": 60.9}, {"t": 4.05, "v": 60.8}, {"t": 4.19, "v": 60.7}, {"t": 4.3, "v": 60.6}, {"t": 4.87, "v": 57.3}, {"t": 4.97, "v": 57.3},
      {"t": 0.78, "v": 64.5}, {"t": 1.12, "v": 57.3}, {"t": 2.1, "v": 48.8}, {"t": 2.36, "v": 47.8}, {"t": 2.45, "v": 47.4}, {"t": 2.94, "v": 44.8}, {"t": 2.98, "v": 44.5}, {"t": 3.02, "v": 44.3}, {"t": 3.15, "v": 43.7}, {"t": 3.3, "v": 43}, {"t": 3.5, "v": 42}, {"t": 3.55, "v": 41.8}, {"t": 3.6, "v": 41.4}, {"t": 3.68, "v": 41}, {"t": 3.75, "v": 40.9}, {"t": 3.82, "v": 40.8}, {"t": 3.95, "v": 40.7}, {"t": 4.02, "v": 40.6}, {"t": 4.05, "v": 40.6}, {"t": 4.15, "v": 40.5}, {"t": 4.25, "v": 40.4}, {"t": 4.37, "v": 40.2}, {"t": 4.57, "v": 39.7}, {"t": 4.8, "v": 39}, {"t": 4.82, "v": 38.9},
      {"t": 1.07, "v": 38}, {"t": 2.33, "v": 25.2}, {"t": 2.53, "v": 23.2}, {"t": 3.04, "v": 20}, {"t": 3.72, "v": 19.9}, {"t": 4.02, "v": 18.1}, {"t": 4.26, "v": 17}, {"t": 4.5, "v": 16.5}, {"t": 4.65, "v": 16.5}, {"t": 4.72, "v": 16.5}
    ]
  },
  "columns": 2,
  "bounds": "flush",
  "spacing": {"row": 162, "column": 227},
  "resolve": {"scale": {"color": "independent"}, "legend": {"color": "independent"}},
  "concat": [
    {
      "title": {"text": "A"},
      "width": 556, "height": 378,
      "data": {"name": "A"},
      "mark": {"type": "line", "interpolate": "linear", "strokeWidth": 3},
      "encoding": {
        "x": {"field": "t", "type": "quantitative", "scale": {"domain": [0, 5.32], "nice": false},
          "axis": {"title": "Time Since Transplantation (years)", "format": "d", "values": [0, 1, 2, 3, 4, 5], "labelFlush": false, "labelPadding": 8, "titlePadding": 20,
            "labelOffset": {"condition": {"test": "datum.value === 0", "value": -19}, "value": 0},
            "tickOpacity": {"condition": {"test": "datum.value === 0", "value": 0}, "value": 1}}},
        "y": {"field": "v", "type": "quantitative", "scale": {"domain": [0, 102.2], "nice": false},
          "axis": {"title": ["Cumulative Incidence of", "Nonrelapse Mortality"], "values": [20, 40, 60, 80, 100], "labelPadding": 6, "titlePadding": 14, "titleLineHeight": 34, "titleFontSize": 29}},
        "color": {"field": "g", "type": "nominal",
          "scale": {"domain": ["HCT-CI 0", "HCT-CI 1, 2", "HCT-CI ≥ 3"], "range": ["#7d7d7d", "#1b6f9f", "#dcc33e"]},
          "legend": {"legendX": 31, "legendY": 28, "rowPadding": 1}}
      }
    },
    {
      "title": {"text": "B"},
      "width": 556, "height": 378,
      "data": {"name": "B"},
      "mark": {"type": "line", "interpolate": "linear", "strokeWidth": 3},
      "encoding": {
        "x": {"field": "t", "type": "quantitative", "scale": {"domain": [0, 5.32], "nice": false},
          "axis": {"title": "Time Since Transplantation (years)", "format": "d", "values": [0, 1, 2, 3, 4, 5], "labelFlush": false, "labelPadding": 8, "titlePadding": 20,
            "labelOffset": {"condition": {"test": "datum.value === 0", "value": -19}, "value": 0},
            "tickOpacity": {"condition": {"test": "datum.value === 0", "value": 0}, "value": 1}}},
        "y": {"field": "v", "type": "quantitative", "scale": {"domain": [0, 102.2], "nice": false},
          "axis": {"title": ["Cumulative Incidence of", "Nonrelapse Mortality"], "values": [20, 40, 60, 80, 100], "labelPadding": 6, "titlePadding": 14, "titleLineHeight": 34, "titleFontSize": 29}},
        "color": {"field": "g", "type": "nominal",
          "scale": {"domain": ["HCT-CI/age 0", "HCT-CI/age 1, 2", "HCT-CI/age 3, 4", "HCT-CI/age 5"], "range": ["#7d7d7d", "#1b6f9f", "#dcc33e", "#b24a4d"]},
          "legend": {"legendX": 30, "legendY": 4, "rowPadding": 1}}
      }
    },
    {
      "title": {"text": "C"},
      "width": 556, "height": 378,
      "layer": [
        {
          "data": {"name": "C"},
          "mark": {"type": "line", "interpolate": "linear", "strokeWidth": 3},
          "encoding": {
            "x": {"field": "t", "type": "quantitative", "scale": {"domain": [0, 5.32], "nice": false},
              "axis": {"title": "Time Since Transplantation (years)", "format": "d", "values": [0, 1, 2, 3, 4, 5], "labelFlush": false, "labelPadding": 8, "titlePadding": 20,
                "labelOffset": {"condition": {"test": "datum.value === 0", "value": -19}, "value": 0},
                "tickOpacity": {"condition": {"test": "datum.value === 0", "value": 0}, "value": 1}}},
            "y": {"field": "v", "type": "quantitative", "scale": {"domain": [0, 102.2], "nice": false},
              "axis": {"title": "Overall Survival (%)", "values": [20, 40, 60, 80, 100], "labelPadding": 6, "titlePadding": 14, "titleFontSize": 29}},
            "color": {"field": "g", "type": "nominal",
              "scale": {"domain": ["HCT-CI 0", "HCT-CI 1, 2", "HCT-CI ≥ 3"], "range": ["#7d7d7d", "#1b6f9f", "#dcc33e"]},
              "legend": {"legendX": 31, "legendY": 289, "rowPadding": 1}}
          }
        },
        {
          "data": {"name": "Ct"},
          "mark": {"type": "tick", "orient": "vertical", "size": 13, "thickness": 2, "color": "#222", "opacity": 0.85},
          "encoding": {
            "x": {"field": "t", "type": "quantitative"},
            "y": {"field": "v", "type": "quantitative"}
          }
        }
      ]
    },
    {
      "title": {"text": "D"},
      "width": 556, "height": 378,
      "layer": [
        {
          "data": {"name": "D"},
          "mark": {"type": "line", "interpolate": "linear", "strokeWidth": 3},
          "encoding": {
            "x": {"field": "t", "type": "quantitative", "scale": {"domain": [0, 5.32], "nice": false},
              "axis": {"title": "Time Since Transplantation (years)", "format": "d", "values": [0, 1, 2, 3, 4, 5], "labelFlush": false, "labelPadding": 8, "titlePadding": 20,
                "labelOffset": {"condition": {"test": "datum.value === 0", "value": -19}, "value": 0},
                "tickOpacity": {"condition": {"test": "datum.value === 0", "value": 0}, "value": 1}}},
            "y": {"field": "v", "type": "quantitative", "scale": {"domain": [0, 102.2], "nice": false},
              "axis": {"title": "Overall Survival (%)", "values": [20, 40, 60, 80, 100], "labelPadding": 6, "titlePadding": 14, "titleFontSize": 29}},
            "color": {"field": "g", "type": "nominal",
              "scale": {"domain": ["HCT-CI/age 0", "HCT-CI/age 1, 2", "HCT-CI/age 3, 4", "HCT-CI/age 5"], "range": ["#7d7d7d", "#1b6f9f", "#dcc33e", "#b24a4d"]},
              "legend": {"legendX": 30, "legendY": 264}}
          }
        },
        {
          "data": {"name": "Dt"},
          "mark": {"type": "tick", "orient": "vertical", "size": 13, "thickness": 2, "color": "#222", "opacity": 0.85},
          "encoding": {
            "x": {"field": "t", "type": "quantitative"},
            "y": {"field": "v", "type": "quantitative"}
          }
        }
      ]
    }
  ]
}
